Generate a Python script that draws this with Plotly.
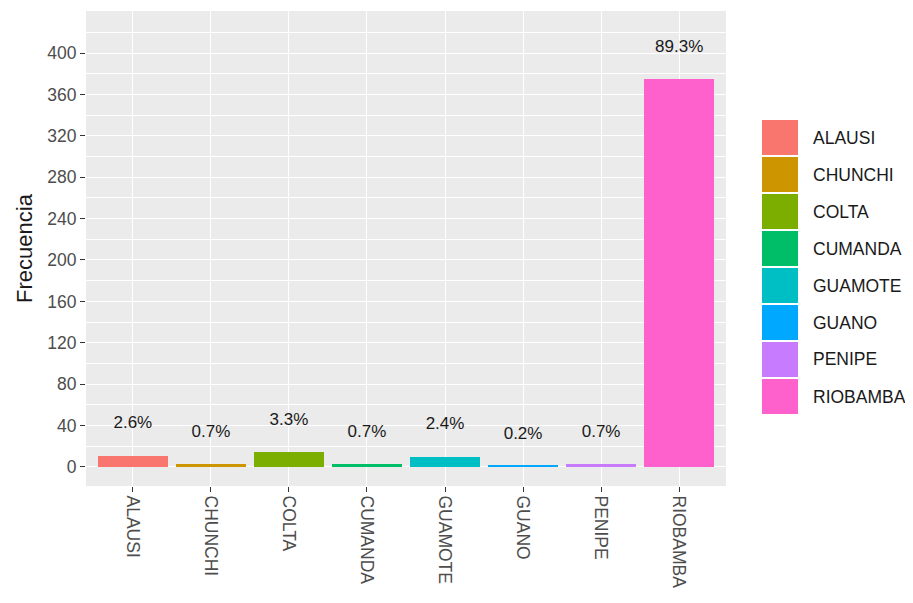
import plotly.graph_objects as go

categories = ["ALAUSI", "CHUNCHI", "COLTA", "CUMANDA", "GUAMOTE", "GUANO", "PENIPE", "RIOBAMBA"]
counts = [11, 3, 14, 3, 10, 1, 3, 375]
pct_labels = ["2.6%", "0.7%", "3.3%", "0.7%", "2.4%", "0.2%", "0.7%", "89.3%"]
colors = ["#F8766D", "#CD9600", "#7CAE00", "#00BE67", "#00BFC4", "#00A9FF", "#C77CFF", "#FF61CC"]
y_ticks = list(range(0, 401, 40))

LABEL_OFFSET = 30.5
FONT = "Liberation Sans, Arial"
OFF = 8  # page body margin
W, H = 913 - OFF, 603 - OFF
ML, MR, MT, MB = 78, 187, 3, 117
PW, PH = W - ML - MR, H - MT - MB

fig = go.Figure()
for cat, n, col in zip(categories, counts, colors):
    fig.add_trace(go.Bar(x=[cat], y=[n], marker=dict(color=col, line=dict(width=0)),
                         width=0.9, showlegend=False, name=cat))

fig.add_trace(go.Scatter(x=categories, y=[n + LABEL_OFFSET for n in counts], mode="text",
                         text=pct_labels, textposition="middle center",
                         textfont=dict(family=FONT, size=17, color="#1a1a1a"),
                         showlegend=False, hoverinfo="skip"))

# ggplot-style legend with large keys (positions in window pixels)
def px2paper_x(px):
    return (px - OFF - ML) / PW

def px2paper_y(py):
    return (H - MB - (py - OFF)) / PH

key_x0, key_x1, text_x = 762, 798, 811
key_top, key_h = 119, 37
shapes = []
annotations = []
for i, (cat, col) in enumerate(zip(categories, colors)):
    y0 = key_top + i * key_h
    shapes.append(dict(type="rect", xref="paper", yref="paper",
                       x0=px2paper_x(key_x0), x1=px2paper_x(key_x1),
                       y0=px2paper_y(y0 + 1), y1=px2paper_y(y0 + key_h - 1),
                       fillcolor=col, line=dict(width=0)))
    annotations.append(dict(xref="paper", yref="paper", x=px2paper_x(text_x),
                            y=px2paper_y(y0 + key_h / 2), text=cat, showarrow=False,
                            xanchor="left", yanchor="middle",
                            font=dict(family=FONT, size=17.5, color="#1a1a1a")))

fig.update_layout(
    width=W, height=H,
    margin=dict(l=ML, r=MR, t=MT, b=MB, autoexpand=False),
    paper_bgcolor="white",
    plot_bgcolor="#EBEBEB",
    bargap=0,
    shapes=shapes,
    annotations=annotations,
    xaxis=dict(
        type="category", categoryorder="array", categoryarray=categories,
        range=[-0.6, 7.6], showgrid=True, gridcolor="white", gridwidth=1.2,
        ticks="outside", ticklen=5, tickcolor="#333333", tickwidth=1,
        tickangle=90,
        tickfont=dict(family=FONT, size=17.5, color="#4D4D4D"),
        zeroline=False, showline=False,
    ),
    yaxis=dict(
        range=[-18.4, 440.6], tickvals=y_ticks, showgrid=True, gridcolor="white", gridwidth=1.2,
        minor=dict(dtick=20, tick0=0, showgrid=True, gridcolor="white", gridwidth=0.6),
        ticks="outside", ticklen=5, tickcolor="#333333", tickwidth=1,
        tickfont=dict(family=FONT, size=17.5, color="#4D4D4D"),
        zeroline=False, showline=False,
        title=dict(text="Frecuencia", standoff=8,
                   font=dict(family=FONT, size=22, color="#1a1a1a")),
    ),
)

fig.write_html("out.html")
